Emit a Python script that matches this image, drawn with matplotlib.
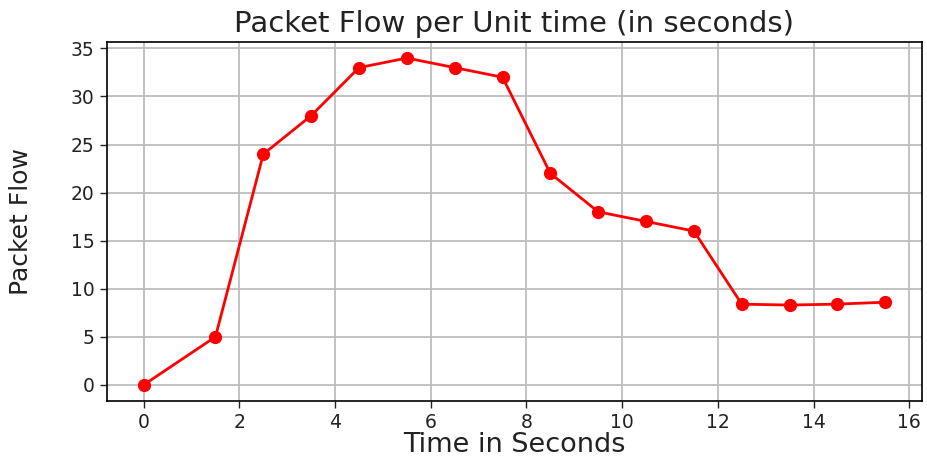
import matplotlib
matplotlib.use('Agg')
import matplotlib.pyplot as plt
import numpy as np

# packet counts sampled once per second
time_s = [0, 1.5, 2.5, 3.5, 4.5, 5.5, 6.5, 7.5, 8.5, 9.5, 10.5, 11.5, 12.5, 13.5, 14.5, 15.5]
packet_flow = [0, 5, 24, 28, 33, 34, 33, 32, 22, 18, 17, 16, 8.4, 8.3, 8.4, 8.6]
x_ticks = [0, 2, 4, 6, 8, 10, 12, 14, 16]
y_ticks = [0, 5, 10, 15, 20, 25, 30, 35]

fig = plt.figure(figsize=(9.27, 4.58), dpi=100)
ax = fig.add_axes([0.115, 0.124, 0.88, 0.785])

ax.plot(time_s, packet_flow, color='red', linewidth=2, marker='o', markersize=8.5)

ax.set_xticks(x_ticks)
ax.set_yticks(y_ticks)
ax.tick_params(labelsize=13.5, length=5, width=1, colors='#222222')
ax.grid(True, color='#bdbdbd', linewidth=1.3)

ax.set_title('Packet Flow per Unit time (in seconds)', fontsize=21, pad=7, color='#222222')
ax.set_xlabel('Time in Seconds', fontsize=19.5, labelpad=0, color='#222222')
ax.set_ylabel('Packet Flow', fontsize=18, color='#222222')
ax.yaxis.set_label_coords(-0.09, 0.5)

for spine in ax.spines.values():
    spine.set_linewidth(1.2)

fig.savefig('out.png', dpi=100)
